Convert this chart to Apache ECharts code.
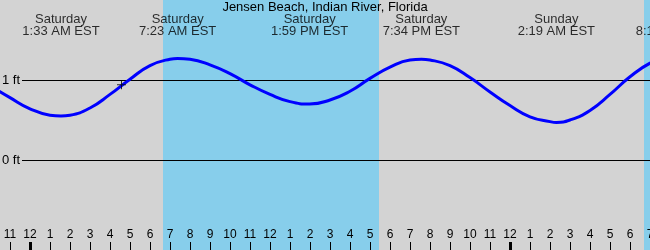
<!DOCTYPE html>
<html>
<head>
<meta charset="utf-8">
<script src="https://cdn.jsdelivr.net/npm/echarts@6/dist/echarts.min.js"></script>
<style>html,body{margin:0;padding:0;background:#d3d3d3}#c{width:650px;height:250px}</style>
</head>
<body>
<div id="c"></div>
<script>
// Hours are counted from Saturday 00:00 (local, EST)
const tideHours = [-2,-1,0,1,1.55,2,3,4,5,6,7,7.38,8,9,10,11,12,13,13.98,15,16,17,18,19,19.57,20,21,22,23,24,25,26,26.32,27,28,29,30,31,32];
const tideFeet  = [0.93,0.78,0.64,0.56,0.55,0.56,0.65,0.82,1.01,1.18,1.26,1.27,1.26,1.19,1.08,0.94,0.82,0.73,0.70,0.75,0.86,1.02,1.16,1.25,1.26,1.25,1.18,1.03,0.85,0.68,0.54,0.48,0.47,0.50,0.62,0.82,1.04,1.21,1.30];

const eventHours = [1.55, 7.383, 13.983, 19.567, 26.317, 32.22];
const eventDays  = ['Saturday','Saturday','Saturday','Saturday','Sunday','Sunday'];
const eventTimes = ['1:33 AM EST','7:23 AM EST','1:59 PM EST','7:34 PM EST','2:19 AM EST','8:13 AM EST'];

const sunriseHours = [6.65, 30.7];
const sunsetHours  = [17.45, 41.45];

const tickHours = [-1,0,1,2,3,4,5,6,7,8,9,10,11,12,13,14,15,16,17,18,19,20,21,22,23,24,25,26,27,28,29,30,31];
const midnightHours = [0, 24];
const yTickFeet = [0, 1];

const nowHour = 4.575;
const nowFeet = 0.94;

const titleText = 'Jensen Beach, Indian River, Florida';

const X_MIN = -1.5, X_MAX = 31, Y_MIN = -1.125, Y_MAX = 2;
const FONT = 'Liberation Sans';

function hourLabel(v) {
  const h = ((Math.round(v) % 24) + 24) % 24;
  const h12 = h % 12 === 0 ? 12 : h % 12;
  return String(h12);
}

const chart = echarts.init(document.getElementById('c'), null, {renderer: 'canvas'});
chart.setOption({
  animation: false,
  backgroundColor: '#d3d3d3',
  textStyle: {fontFamily: FONT},
  title: {
    text: titleText, left: 'center', top: 1, padding: 0,
    textStyle: {fontSize: 13, fontWeight: 'normal', color: '#000', fontFamily: FONT}
  },
  grid: [
    {left: 0, right: 0, top: 0, bottom: 0, containLabel: false, outerBoundsMode: 'none'},
    {left: 22, right: 0, top: 0, bottom: 10, containLabel: false, outerBoundsMode: 'none'}
  ],
  xAxis: [
    {
      type: 'value', gridIndex: 0, min: X_MIN, max: X_MAX, position: 'bottom', z: 2,
      axisLine: {show: false, onZero: false},
      splitLine: {show: false},
      axisTick: {show: true, inside: true, length: 8, customValues: tickHours, lineStyle: {color: '#000', width: 1}},
      axisLabel: {show: true, inside: true, margin: 9, customValues: tickHours, formatter: hourLabel,
        hideOverlap: false, showMinLabel: true, showMaxLabel: true,
        color: '#000', fontSize: 12, fontFamily: FONT}
    },
    {
      type: 'value', gridIndex: 0, min: X_MIN, max: X_MAX, position: 'bottom', z: 2,
      axisLine: {show: false, onZero: false},
      splitLine: {show: false},
      axisTick: {show: true, inside: true, length: 8, customValues: midnightHours, lineStyle: {color: '#000', width: 3}},
      axisLabel: {show: false}
    },
    {
      type: 'value', gridIndex: 1, min: 0, max: 1, show: false
    }
  ],
  yAxis: [
    {type: 'value', gridIndex: 0, min: Y_MIN, max: Y_MAX, show: false},
    {
      type: 'value', gridIndex: 1, min: -1, max: 2, interval: 1, position: 'left', z: 2,
      axisLine: {show: false, onZero: false}, axisTick: {show: false},
      splitLine: {show: true, showMinLine: false, showMaxLine: false, lineStyle: {color: '#000', width: 1}},
      axisLabel: {show: true, margin: 2, showMinLabel: false, showMaxLabel: false,
        formatter: function (v) { return yTickFeet.indexOf(v) >= 0 ? v + ' ft' : ''; },
        color: '#000', fontSize: 13, fontFamily: FONT}
    }
  ],
  series: [
    {
      type: 'line', xAxisIndex: 0, yAxisIndex: 0, data: [], z: 0, silent: true,
      markArea: {
        silent: true, z: 0,
        itemStyle: {color: '#87ceeb'},
        data: sunriseHours.map((s, i) => [{xAxis: s}, {xAxis: sunsetHours[i]}])
      }
    },
    {
      type: 'line', xAxisIndex: 0, yAxisIndex: 0, z: 5,
      data: tideHours.map((t, i) => [t, tideFeet[i]]),
      smooth: 0.5, showSymbol: false, symbol: 'none',
      lineStyle: {color: '#0000ff', width: 3}
    },
    {
      type: 'scatter', xAxisIndex: 0, yAxisIndex: 0, z: 6, clip: false,
      data: [[nowHour, nowFeet]],
      symbol: 'path://M4,0H5V4H9V5H5V9H4V5H0V4H4Z', symbolSize: 9,
      itemStyle: {color: '#000'}
    },
    {
      type: 'scatter', xAxisIndex: 0, yAxisIndex: 0, z: 7, clip: false,
      data: eventHours.map((t) => [t, Y_MAX]),
      symbolSize: 1, itemStyle: {color: 'rgba(0,0,0,0)'},
      label: {
        show: true, position: 'bottom', distance: 13,
        formatter: (p) => eventDays[p.dataIndex] + '\n' + eventTimes[p.dataIndex],
        color: '#000', fontSize: 13, lineHeight: 12, align: 'center', fontFamily: FONT
      },
      labelLayout: {hideOverlap: false, moveOverlap: false}
    }
  ]
});
</script>
</body>
</html>
